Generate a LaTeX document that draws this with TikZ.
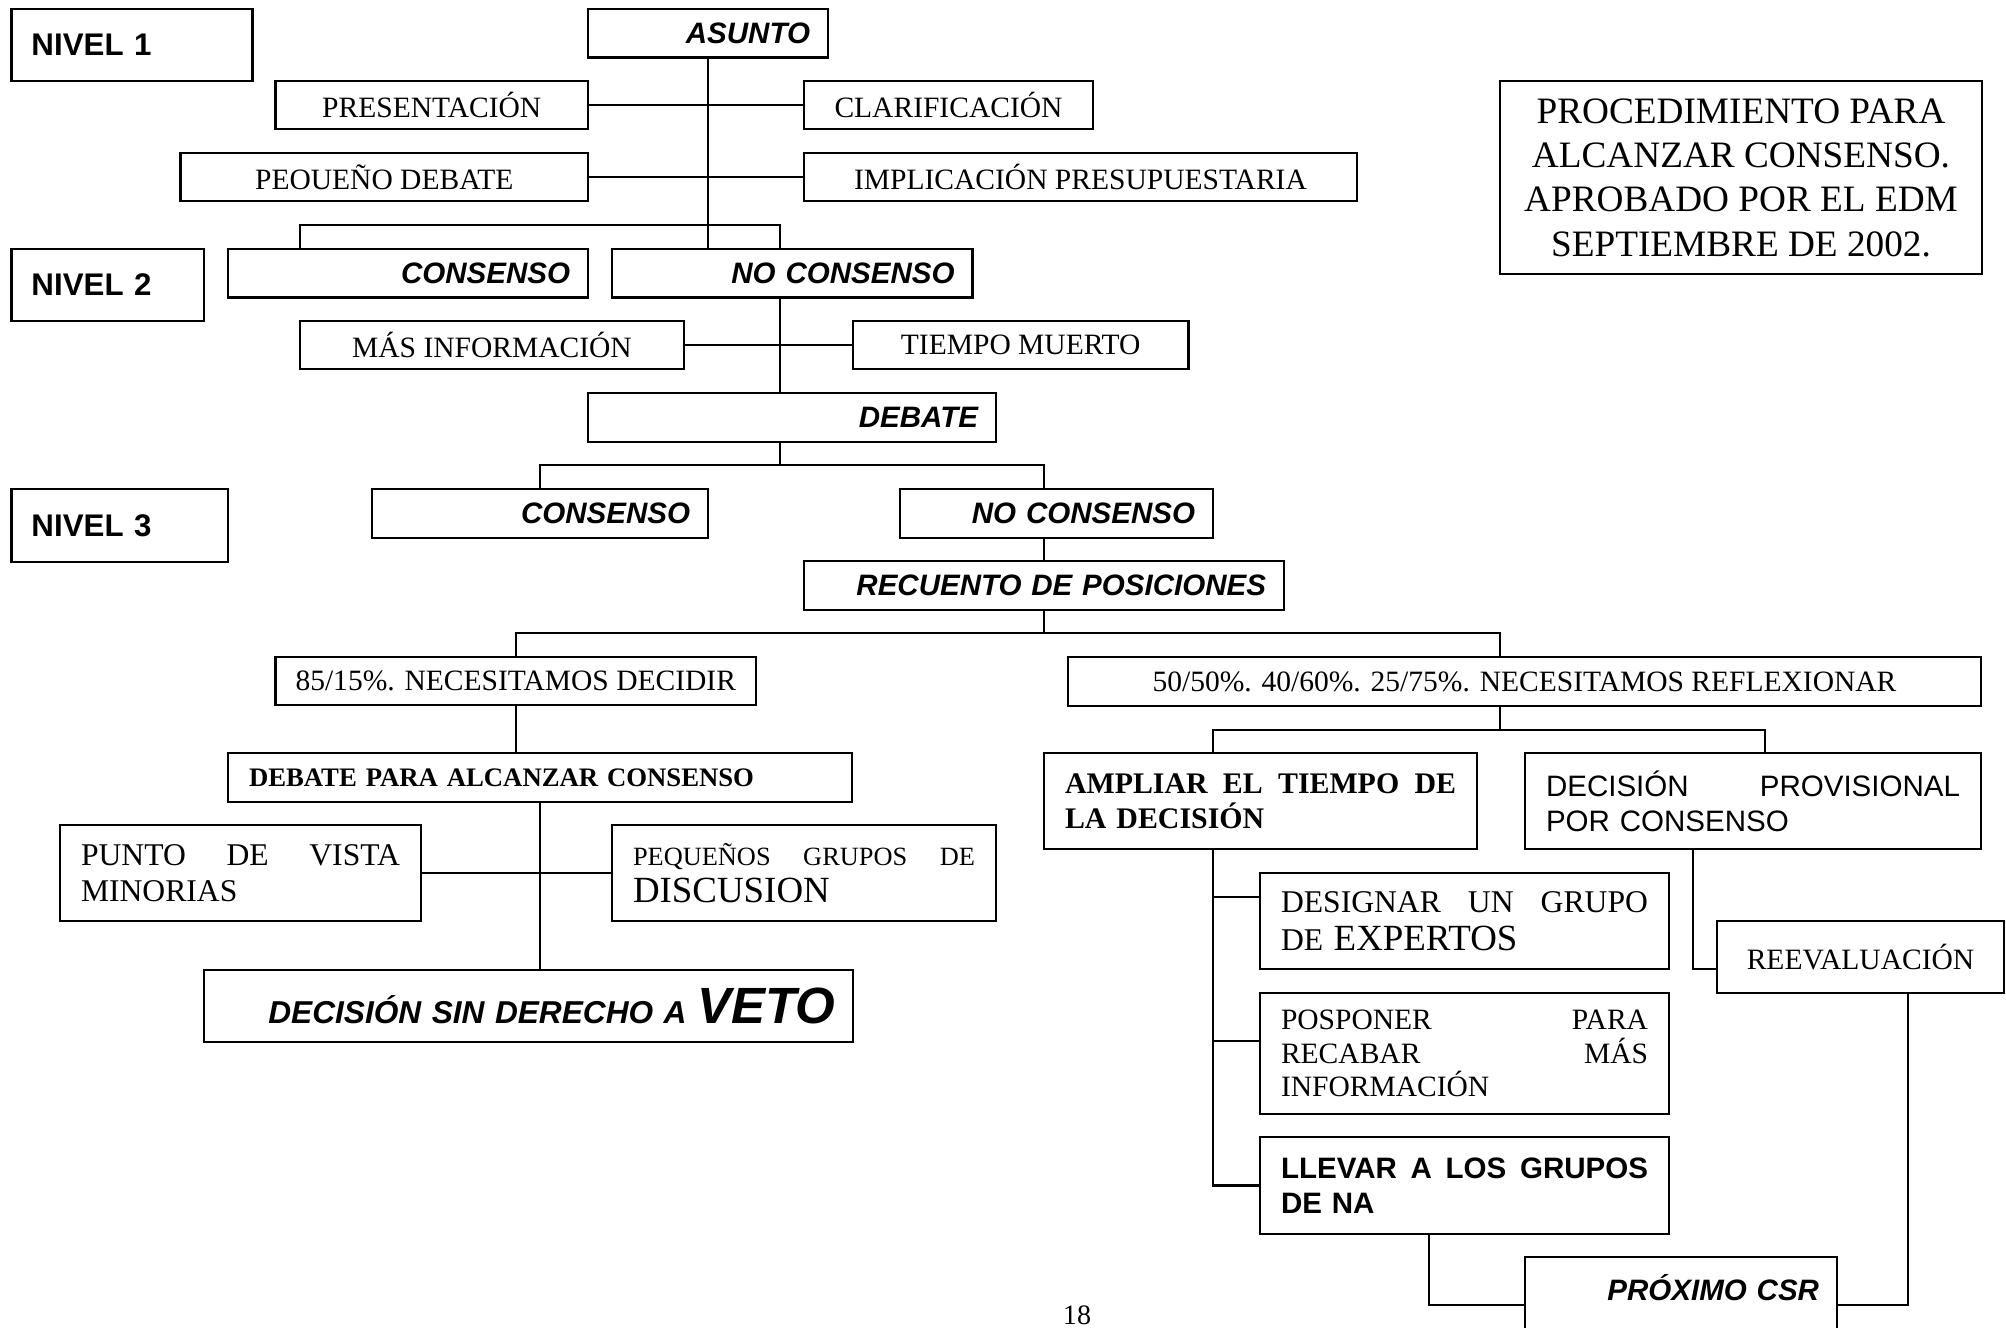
\documentclass[tikz,border=0pt]{standalone}
\usepackage{fontspec}
\setmainfont{Liberation Serif}
\setsansfont{Liberation Sans}
\usetikzlibrary{positioning}
\tikzset{
    blk/.style = {draw, rectangle, line width=0.6pt,
        inner sep=0pt, outer sep=0pt, anchor=north west},
    link/.style = {draw, line width=0.6pt}
}

\begin{document}
\begin{tikzpicture}[
    y=-1cm,
    hdr/.style={blk, font=\fontsize{8.4}{10}\selectfont\sffamily\bfseries\itshape,
        align=right, inner xsep=0.18cm, text width=#1, minimum height=0.485cm},
    lvl/.style={blk, font=\fontsize{8.9}{10}\selectfont\sffamily\bfseries,
        align=left, inner xsep=0.2cm, text width=#1, minimum height=0.72cm},
    txt/.style={blk, font=\fontsize{8.4}{9.6}\selectfont, align=center,
        minimum width=#1, minimum height=0.48cm},
    jst/.style={blk, font=\fontsize{8.4}{9.6}\selectfont, align=left,
        inner xsep=0.21cm, text width=#1}
]
\path[use as bounding box] (0,0) rectangle (20.06,13.27);
\clip (0,0) rectangle (20.06,13.27);

% nivel 1
\node[lvl=2.01cm] (niv1) at (0.115,0.09) {NIVEL 1};
\node[hdr=2.04cm] (asunto) at (5.88,0.09) {ASUNTO};
\node[txt=3.125cm] (presen) at (2.755,0.81) {PRESENTACIÓN};
\node[txt=2.89cm, right=2.16cm of presen] (clarif) {CLARIFICACIÓN};
\node[txt=4.075cm] (pequeno) at (1.805,1.53) {PEOUEÑO DEBATE};
\node[txt=5.53cm, right=2.16cm of pequeno] (implic) {IMPLICACIÓN PRESUPUESTARIA};
\node[txt=4.82cm, minimum height=1.93cm, font=\fontsize{10.6}{12.6}\selectfont] (proc) at (15.00,0.81)
    {PROCEDIMIENTO PARA\\ALCANZAR CONSENSO.\\APROBADO POR EL EDM\\SEPTIEMBRE DE 2002.};

% nivel 2
\node[lvl=1.525cm] (niv2) at (0.115,2.49) {NIVEL 2};
\node[hdr=3.24cm] (cons2) at (2.28,2.49) {CONSENSO};
\node[hdr=3.245cm, right=0.24cm of cons2] (nocons2) {NO CONSENSO};
\node[txt=3.84cm] (masinfo) at (3.00,3.21) {MÁS INFORMACIÓN};
\node[txt=3.355cm, right=1.69cm of masinfo] (tiempo) {TIEMPO MUERTO};
\node[hdr=3.72cm, minimum height=0.49cm] (debate) at (5.88,3.93) {DEBATE};

% nivel 3
\node[lvl=1.765cm, minimum height=0.73cm] (niv3) at (0.115,4.89) {NIVEL 3};
\node[hdr=3.00cm, minimum height=0.49cm] (cons3) at (3.72,4.89) {CONSENSO};
\node[hdr=2.77cm, minimum height=0.49cm, right=1.92cm of cons3] (nocons3) {NO CONSENSO};
\node[hdr=4.44cm, minimum height=0.49cm] (recuento) at (8.04,5.61) {RECUENTO DE POSICIONES};
\node[txt=4.805cm] (p85) at (2.755,6.57) {85/15\%. NECESITAMOS DECIDIR};
\node[txt=9.13cm, minimum height=0.49cm] (p50) at (10.68,6.57) {50/50\%. 40/60\%. 25/75\%. NECESITAMOS REFLEXIONAR};

% rama 85/15
\node[jst=5.82cm, minimum height=0.49cm, font=\fontsize{7.6}{9}\selectfont\bfseries] (debalc) at (2.28,7.53)
    {DEBATE PARA ALCANZAR CONSENSO};
\node[jst=3.19cm, minimum height=0.96cm, font=\fontsize{9}{10.2}\selectfont] (punto) at (0.60,8.25)
    {PUNTO\hfill DE\hfill VISTA\\MINORIAS};
\node[jst=3.42cm, minimum height=0.96cm, font=\fontsize{7.5}{10.4}\selectfont, right=1.91cm of punto] (pequenos)
    {PEQUEÑOS\hfill GRUPOS\hfill DE\\{\fontsize{10.5}{10.4}\selectfont DISCUSION}};
\node[hdr=6.13cm, minimum height=0.72cm, font=\fontsize{9}{10}\selectfont\sffamily\bfseries\itshape] (veto) at (2.04,9.70)
    {DECISIÓN SIN DERECHO A {\fontsize{14.5}{16}\selectfont VETO}};

% rama 50/50
\node[jst=3.91cm, minimum height=0.96cm, font=\fontsize{8.5}{10}\selectfont\bfseries] (ampliar) at (10.44,7.53)
    {AMPLIAR\hfill EL\hfill TIEMPO\hfill DE\\LA DECISIÓN};
\node[jst=4.14cm, minimum height=0.96cm, font=\fontsize{8.4}{10}\selectfont\sffamily, right=0.48cm of ampliar] (decprov)
    {DECISIÓN\hfill PROVISIONAL\\POR CONSENSO};
\node[jst=3.67cm, minimum height=0.96cm, font=\fontsize{9}{10.8}\selectfont] (designar) at (12.60,8.73)
    {DESIGNAR\hfill UN\hfill GRUPO\\DE {\fontsize{10.5}{10.8}\selectfont EXPERTOS}};
\node[jst=3.67cm, minimum height=1.21cm, below=0.24cm of designar] (posponer)
    {POSPONER\hfill PARA\\RECABAR\hfill MÁS\\INFORMACIÓN};
\node[jst=3.67cm, minimum height=0.97cm, font=\fontsize{8.4}{10}\selectfont\sffamily\bfseries, below=0.23cm of posponer] (llevar)
    {LLEVAR\hfill A\hfill LOS\hfill GRUPOS\\DE NA};
\node[txt=2.87cm, minimum height=0.72cm] (reeval) at (17.17,9.21) {REEVALUACIÓN};
\node[hdr=2.76cm, inner ysep=0.1cm, text height=0.33cm, text depth=0.43cm] (proximo) at (15.25,12.57) {PRÓXIMO CSR};
\node[font=\fontsize{8}{9}\selectfont] (pnum) at (10.77,13.15) {18};

\draw[link] (asunto.south) -- (asunto.south |- nocons2.north);
\draw[link] (presen) -- (clarif);
\draw[link] (pequeno) -- (implic);
\draw[link] ([xshift=-1.08cm]cons2.north) -- ++(0,-0.24) -| ([xshift=-0.12cm]nocons2.north);
\draw[link] ([xshift=-0.12cm]nocons2.south) -- ([xshift=-0.12cm]nocons2.south |- debate.north);
\draw[link] (masinfo) -- (tiempo);
\draw[link] ([xshift=-0.12cm]debate.south) -- ++(0,0.23) -| (cons3.north);
\draw[link] ([xshift=-0.12cm]debate.south) -- ++(0,0.23) -| (recuento.north |- nocons3.north);
\draw[link] (nocons3.south -| recuento.north) -- (recuento.north);
\draw[link] (recuento.south) -- ++(0,0.23) -| (p85.north);
\draw[link] (recuento.south) -- ++(0,0.23) -| ([xshift=-0.245cm]p50.north);
\draw[link] (p85.south) -- (p85.south |- debalc.north);
\draw[link] (debalc.south) -- (debalc.south |- veto.north);
\draw[link] (punto) -- (pequenos);
\draw[link] ([xshift=-0.245cm]p50.south) -- ++(0,0.24) -| ([xshift=-0.475cm]ampliar.north);
\draw[link] ([xshift=-0.245cm]p50.south) -- ++(0,0.24) -| ([xshift=0.12cm]decprov.north);
\draw[link] ([xshift=-0.475cm]ampliar.south) |- ([yshift=0.24cm]designar.west);
\draw[link] ([xshift=-0.475cm]ampliar.south) |- ([yshift=0.125cm]posponer.west);
\draw[link] ([xshift=-0.475cm]ampliar.south) |- (llevar.west);
\draw[link] ([xshift=-0.6cm]decprov.south) |- ([yshift=-0.12cm]reeval.west);
\draw[link] ([xshift=-0.355cm]llevar.south) |- (proximo.west);
\draw[link] ([xshift=0.475cm]reeval.south) |- (proximo.east);
\end{tikzpicture}
\end{document}
